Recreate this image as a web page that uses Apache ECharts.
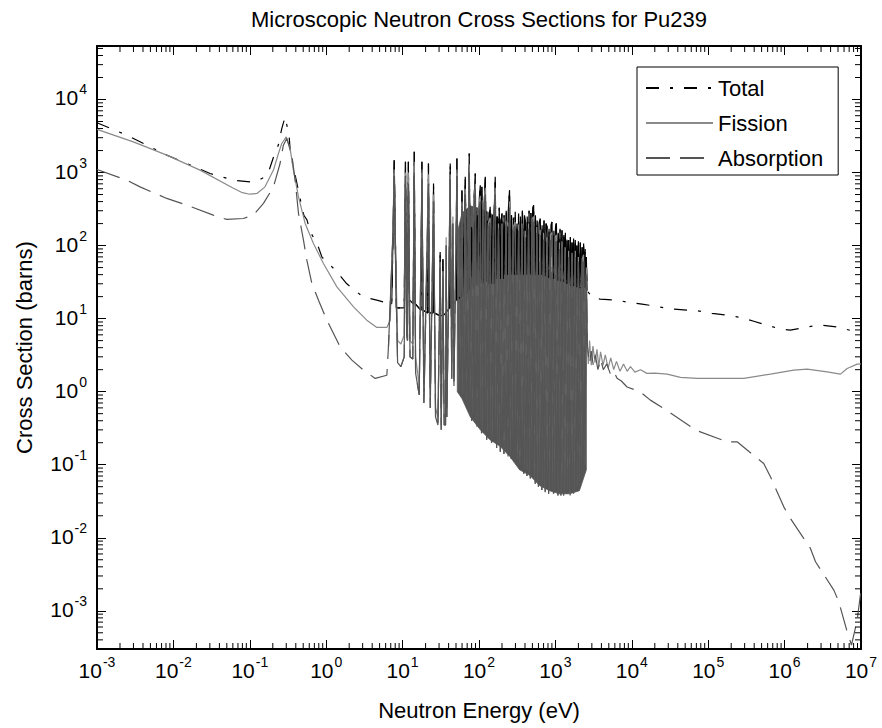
<!DOCTYPE html>
<html><head><meta charset="utf-8">
<script src="https://cdn.jsdelivr.net/npm/echarts@6.0.0/dist/echarts.min.js"></script>
<style>html,body{margin:0;padding:0;background:#fff}#chart{width:882px;height:728px}</style>
</head><body><div id="chart"></div>
<script>
// ---------------- data (energy eV, cross section barns) ----------------
const totalLow = [[0.001,4800],[0.00245,3250],[0.00448,2370],[0.00818,1730],[0.015,1330],[0.0302,970],[0.061,786],[0.101,745],[0.124,760],[0.16,880],[0.175,1000],[0.204,1620],[0.237,2400],[0.262,4000],[0.29,5780],[0.327,3150],[0.337,2100],[0.36,1400],[0.39,950],[0.46,420],[0.51,260],[0.56,225],[0.62,153],[0.76,107],[0.88,69.5],[1.32,46],[1.86,30],[2.2,26],[3.0,20],[4.6,17.9],[6.9,16]];
const totalResonance = [[6.9,16],[7.2,16],[7.6,300],[7.76,1480],[7.95,300],[8.3,14],[10.5,14],[10.9,1400],[11.3,30],[11.6,22],[11.9,1400],[12.3,18],[13.8,16],[14.2,1920],[14.6,16],[17.4,13],[17.9,1400],[18.4,13],[21.3,12],[21.8,1330],[22.3,12],[25.0,12],[25.4,708],[25.9,12],[30.6,11],[31.0,82],[31.5,11],[33.3,11],[33.7,65],[34.2,11],[41.3,14],[42.0,1330],[42.7,14],[50.6,18],[51.4,1560],[52.2,18],[57.5,20],[59.8,574],[62,20],[66.1,873],[69,22],[72,25],[74.5,1820],[77,25],[80,180],[83,25],[86,400],[89.3,970],[92,28],[95,260],[98,30],[101,450],[104,670],[106,30],[109,637],[112,30],[116,300],[121,873],[125,32],[129,220],[133,30],[137,250],[140,339],[145,30],[150,260],[155,30],[159,300],[163,873],[168,35],[173,250],[178,35],[184,330],[190,35],[195,220],[200,275],[207,35],[213,260],[220,40],[227,300],[235,40],[243,330],[251,574],[258,40],[266,260],[274,40],[282,240],[290,40],[298,290],[306,40],[314,200],[322,40],[330,275],[340,40],[350,250],[360,40],[370,300],[382,40],[394,260],[404,223],[416,40],[428,250],[440,40],[452,300],[465,40],[478,280],[492,40],[505,330],[519,357],[533,40],[548,260],[563,40],[578,220],[594,40],[610,200],[634,235],[652,40],[670,190],[690,38],[710,220],[730,38],[755,200],[777,180],[800,36],[825,170],[850,36],[876,190],[902,211],[930,35],[955,160],[980,35],[1005,180],[1030,201],[1060,33],[1090,150],[1120,33],[1150,170],[1185,32],[1220,163],[1255,32],[1290,140],[1320,32],[1350,150],[1385,30],[1420,120],[1455,30],[1490,119],[1530,30],[1570,130],[1610,28],[1650,110],[1690,28],[1730,125],[1775,28],[1820,119],[1865,27],[1910,100],[1955,27],[2000,115],[2060,26],[2120,110],[2180,26],[2240,95],[2290,26],[2340,107],[2400,26],[2450,90],[2500,25],[2540,70],[2600,24]];
const totalHigh = [[2600,24],[3160,18.9],[3870,18.5],[6410,17.9],[9570,16.5],[13600,15.8],[20300,14.8],[32000,13.6],[47800,13.2],[71600,12.8],[112000,11.8],[168000,11.2],[264000,10.4],[395000,9.2],[838000,7.3],[1.19e6,6.96],[1.97e6,7.7],[2.95e6,8.15],[4.88e6,7.7],[7.28e6,6.9],[1e7,6.3]];

const fissionLow = [[0.001,3900],[0.00299,2630],[0.00818,1730],[0.0223,1080],[0.061,610],[0.08,530],[0.1,505],[0.124,517],[0.158,637],[0.204,1080],[0.237,1820],[0.262,2500],[0.30,3080],[0.337,2130],[0.372,1080],[0.434,465],[0.53,201],[0.681,107],[0.92,56.9],[1.38,27.2],[2.28,14.5],[3.40,9.53],[4.60,7.57],[6.22,7.57],[6.89,9.5]];
const fissionResonance = [[6.89,9.5],[7.5,200],[7.76,1100],[8.0,150],[8.6,5],[9.5,4.5],[10.5,6],[10.9,1000],[11.3,10],[11.6,8],[11.9,1000],[12.5,5],[13.6,4.5],[14.2,1400],[14.8,3],[16.5,1.2],[17.9,1000],[19,1.0],[21.8,950],[23,0.9],[25.4,500],[27,0.6],[29,0.45],[31,60],[32,0.35],[33.7,45],[35,0.45],[36.5,0.45],[37.2,130],[38,0.6],[42.0,950],[44,1.9],[45.5,250],[47,1.5],[51.4,1100],[55,1.2],[59.8,400],[62,0.95],[66.1,600],[70,0.8],[74.5,1300],[80,0.5],[85,300],[89.3,700],[94,0.4],[99,350],[104,480],[108,0.3],[113,300],[121,620],[126,0.28],[132,200],[140,240],[146,0.22],[155,250],[163,620],[170,0.2],[180,200],[190,0.18],[200,200],[212,0.16],[225,220],[240,0.15],[251,400],[265,0.14],[280,180],[298,210],[312,0.12],[330,195],[345,0.1],[365,200],[385,0.09],[404,160],[425,0.085],[445,200],[470,0.075],[495,230],[519,250],[545,0.06],[570,180],[600,0.055],[634,165],[665,0.05],[700,150],[735,0.048],[777,130],[815,0.045],[860,140],[902,150],[945,0.042],[990,130],[1030,140],[1080,0.04],[1130,110],[1180,0.04],[1220,115],[1280,0.04],[1340,95],[1400,0.045],[1490,85],[1560,0.04],[1650,80],[1730,0.042],[1820,85],[1910,0.05],[2000,70],[2120,0.06],[2240,65],[2340,75],[2440,0.1],[2540,50],[2600,4.5]];
const fissionHigh = [[2600,4.5],[2700,2.4],[2800,5.0],[2950,2.3],[3100,4.2],[3300,2.5],[3500,3.8],[3700,2.2],[3900,3.5],[4200,2.3],[4500,3.2],[4900,2.1],[5300,2.9],[5800,2.0],[6300,2.6],[7000,1.9],[7800,2.4],[8700,1.9],[9600,2.2],[11000,1.85],[13000,2.0],[15800,1.78],[20000,1.8],[29000,1.74],[43300,1.57],[71600,1.52],[292000,1.52],[653000,1.74],[1.32e6,1.97],[1.97e6,2.04],[3.61e6,1.87],[5.38e6,1.74],[6.59e6,2.08],[8.91e6,2.38],[1e7,2.4]];

const absorptionLow = [[0.001,1100],[0.00245,786],[0.00366,637],[0.00818,442],[0.015,358],[0.0333,261],[0.05,228],[0.0824,235],[0.111,261],[0.151,378],[0.204,637],[0.249,1330],[0.275,2370],[0.305,2920],[0.355,1730],[0.392,786],[0.434,275],[0.504,119],[0.558,63.1],[0.649,30.3],[0.793,17.9],[1.02,9.53],[1.52,4.11],[2.17,2.70],[3.08,1.97],[4.38,1.52],[6.22,1.68],[6.53,4.1]];
const absorptionResonance = [[6.53,4.1],[7.5,150],[7.76,900],[8.0,100],[8.6,2.5],[9.5,2.2],[10.5,3],[10.9,900],[11.3,6],[11.6,5],[11.9,700],[12.5,3],[13.6,2.8],[14.2,1000],[14.8,1.8],[16.5,0.9],[17.9,800],[19,0.7],[21.8,700],[23,0.6],[25.4,400],[27,0.45],[29,0.35],[31,50],[32,0.3],[33.7,40],[35,0.35],[36.5,0.35],[37.2,100],[38,0.45],[42,800],[44,1.5],[45.5,200],[47,1.2],[51.4,900],[55,1.0],[59.8,350],[62,0.8],[66.1,500],[70,0.6],[74.5,1000],[80,0.4],[85,200],[89.3,600],[94,0.33],[99,300],[104,400],[108,0.27],[113,250],[121,500],[126,0.22],[132,180],[140,200],[146,0.2],[155,220],[163,500],[170,0.17],[180,170],[190,0.15],[200,170],[212,0.14],[225,190],[240,0.13],[251,330],[265,0.12],[280,150],[298,180],[312,0.1],[330,160],[345,0.085],[365,170],[385,0.075],[404,130],[425,0.07],[445,170],[470,0.065],[495,190],[519,210],[545,0.055],[570,150],[600,0.05],[634,140],[665,0.045],[700,120],[735,0.042],[777,110],[815,0.04],[860,115],[902,120],[945,0.04],[990,105],[1030,115],[1080,0.038],[1130,90],[1180,0.038],[1220,95],[1280,0.038],[1340,80],[1400,0.04],[1490,70],[1560,0.038],[1650,65],[1730,0.04],[1820,70],[1910,0.045],[2000,60],[2120,0.05],[2240,55],[2340,60],[2440,0.09],[2540,40],[2620,4.3]];
const absorptionHigh = [[2620,4.3],[2800,2.4],[2950,3.6],[3150,2.2],[3330,3.2],[3600,2.0],[3900,2.8],[4240,2.0],[4700,2.4],[5300,1.7],[5800,1.9],[6410,1.53],[7300,1.4],[8670,1.16],[12900,0.995],[17500,0.766],[26100,0.59],[55500,0.348],[68000,0.298],[177000,0.206],[239000,0.206],[533000,0.104],[653000,0.0683],[976000,0.0265],[1.19e6,0.0184],[2.18e6,0.00714],[2.54e6,0.00469],[4.41e6,0.00192],[5.12e6,0.00133],[6.59e6,0.000516],[7.51e6,0.00034],[8.91e6,0.000746],[1e7,0.00192]];

// dense resonance band (energy, lower, upper)
const bandE  = [52, 60, 77, 104, 139, 187, 253, 340, 460, 620, 840, 1130, 1530, 2060, 2540];
const bandLo = [1.0, 0.8, 0.45, 0.3, 0.22, 0.18, 0.13, 0.085, 0.072, 0.052, 0.044, 0.04, 0.04, 0.044, 0.085];
const bandHi = [150, 280, 350, 320, 280, 230, 170, 120, 85, 60, 45, 36, 30, 27, 25];

const minorMultipliers = [2,3,4,5,6,7,8,9];
const legendNames = ['Total','Fission','Absorption'];
// ---------------------------------------------------------------------

const X_MIN = 1e-3, X_MAX = 1e7, Y_MIN = 3e-4, Y_MAX = 5.4e4;
const FONT = '"Liberation Sans", Arial, Helvetica, sans-serif';

function powLabel(v) {
  const l = Math.log10(v), e = Math.round(l);
  if (Math.abs(l - e) > 1e-6) return '';
  return '{b|10}{e|' + e + '}';
}
const richLabel = {
  b: {fontSize: 21, lineHeight: 22, verticalAlign: 'bottom', color: '#000', fontFamily: FONT},
  e: {fontSize: 14, lineHeight: 14, padding: [0, 0, 12, 1], verticalAlign: 'bottom', color: '#000', fontFamily: FONT}
};

const axisCommon = {
  type: 'log', logBase: 10,
  axisLine: {show: true, onZero: false, lineStyle: {color: '#000', width: 2}},
  axisTick: {show: true, inside: true, length: 9, lineStyle: {color: '#000', width: 1}},
  splitLine: {show: false},
  minorTick: {show: false}
};

function renderMinorTicks(params, api) {
  if (params.dataIndex !== 0) return null;
  const children = [];
  const bl = api.coord([X_MIN, Y_MIN]);
  const tr = api.coord([X_MAX, Y_MAX]);
  const L = 6;
  const st = {stroke: '#000', lineWidth: 1};
  for (let d = -3; d < 7; d++) {
    for (const m of minorMultipliers) {
      const px = api.coord([m * Math.pow(10, d), Y_MIN])[0];
      children.push({type: 'line', shape: {x1: px, y1: bl[1], x2: px, y2: bl[1] - L}, style: st});
      children.push({type: 'line', shape: {x1: px, y1: tr[1], x2: px, y2: tr[1] + L}, style: st});
    }
  }
  for (let d = -4; d < 5; d++) {
    for (const m of minorMultipliers) {
      const v = m * Math.pow(10, d);
      if (v <= Y_MIN || v >= Y_MAX) continue;
      const py = api.coord([X_MIN, v])[1];
      children.push({type: 'line', shape: {x1: bl[0], y1: py, x2: bl[0] + L, y2: py}, style: st});
      children.push({type: 'line', shape: {x1: tr[0], y1: py, x2: tr[0] - L, y2: py}, style: st});
    }
  }
  return {type: 'group', children};
}

function renderBand(params, api) {
  if (params.dataIndex !== 0) return null;
  const pts = [];
  for (let i = 0; i < bandE.length; i++) pts.push(api.coord([bandE[i], bandHi[i]]));
  for (let i = bandE.length - 1; i >= 0; i--) pts.push(api.coord([bandE[i], bandLo[i]]));
  return {type: 'polygon', shape: {points: pts}, style: {fill: '#555555', stroke: '#555555', lineWidth: 0.8}};
}

const chart = echarts.init(document.getElementById('chart'), null, {renderer: 'svg'});
chart.setOption({
  animation: false,
  backgroundColor: '#fff',
  textStyle: {fontFamily: FONT},
  title: {
    text: 'Microscopic Neutron Cross Sections for Pu239',
    left: 479, top: 8, textAlign: 'center', padding: 0,
    textStyle: {fontSize: 22, fontWeight: 'normal', color: '#000', fontFamily: FONT}
  },
  legend: {
    data: legendNames,
    orient: 'vertical',
    left: 637, top: 67,
    padding: [10, 15, 6, 8],
    itemGap: 13,
    itemWidth: 67, itemHeight: 14,
    borderColor: '#000', borderWidth: 1,
    backgroundColor: '#fff',
    itemStyle: {opacity: 0},
    textStyle: {fontSize: 22, color: '#000', fontFamily: FONT, padding: [0, 0, 0, 0]},
    selectedMode: false
  },
  grid: {left: 97, right: 21, top: 46, bottom: 79, containLabel: false},
  xAxis: [
    Object.assign({}, axisCommon, {
      position: 'bottom', min: X_MIN, max: X_MAX, interval: 1,
      name: 'Neutron Energy (eV)', nameLocation: 'middle', nameGap: 50,
      nameTextStyle: {fontSize: 22, color: '#000', fontFamily: FONT},
      axisLabel: {show: true, interval: 0, margin: 10, formatter: powLabel, rich: richLabel, showMinLabel: true, showMaxLabel: true}
    }),
    Object.assign({}, axisCommon, {
      position: 'top', min: X_MIN, max: X_MAX, interval: 1,
      axisLabel: {show: false}
    })
  ],
  yAxis: [
    Object.assign({}, axisCommon, {
      position: 'left', min: Y_MIN, max: Y_MAX, splitNumber: 8,
      name: 'Cross Section (barns)', nameLocation: 'middle', nameGap: 62, nameRotate: 90,
      nameTextStyle: {fontSize: 22, color: '#000', fontFamily: FONT},
      axisLabel: {show: true, interval: 0, margin: 10, formatter: powLabel, rich: richLabel, padding: [0, 0, 4, 0]}
    }),
    Object.assign({}, axisCommon, {
      position: 'right', min: Y_MIN, max: Y_MAX, splitNumber: 8,
      axisLabel: {show: false}
    })
  ],
  series: [
    {
      name: 'Total', type: 'line', symbol: 'none', showSymbol: false,
      data: totalLow.concat(totalResonance, totalHigh),
      lineStyle: {color: '#000', width: 1.2, type: [13, 11, 3, 11]},
      itemStyle: {color: '#000'}, z: 2
    },
    {
      name: 'Total resonances', type: 'line', symbol: 'none', showSymbol: false,
      data: totalResonance,
      lineStyle: {color: '#000', width: 1.2, type: 'solid'},
      itemStyle: {color: '#000'}, z: 2
    },
    {
      name: 'Fission', type: 'line', symbol: 'none', showSymbol: false,
      data: fissionLow.concat(fissionResonance, fissionHigh),
      lineStyle: {color: '#8a8a8a', width: 1.2, type: 'solid'},
      itemStyle: {color: '#8a8a8a'}, z: 2
    },
    {
      name: 'Absorption', type: 'line', symbol: 'none', showSymbol: false,
      data: absorptionLow.concat(absorptionResonance, absorptionHigh),
      lineStyle: {color: '#555555', width: 1.2, type: [24, 10]},
      itemStyle: {color: '#555555'}, z: 2
    },
    {
      name: 'Absorption resonances', type: 'line', symbol: 'none', showSymbol: false,
      data: absorptionResonance,
      lineStyle: {color: '#555555', width: 1.2, type: 'solid'},
      itemStyle: {color: '#555555'}, z: 2
    },
    {
      name: 'band', type: 'custom', silent: true, z: 2,
      renderItem: renderBand,
      data: bandE.map((e, i) => [e, bandLo[i], bandHi[i]]),
      encode: {x: 0, y: [1, 2]}
    },
    {
      name: 'minor ticks', type: 'custom', silent: true, z: 3,
      renderItem: renderMinorTicks,
      data: [[X_MIN, Y_MIN]]
    }
  ]
});
</script></body></html>
